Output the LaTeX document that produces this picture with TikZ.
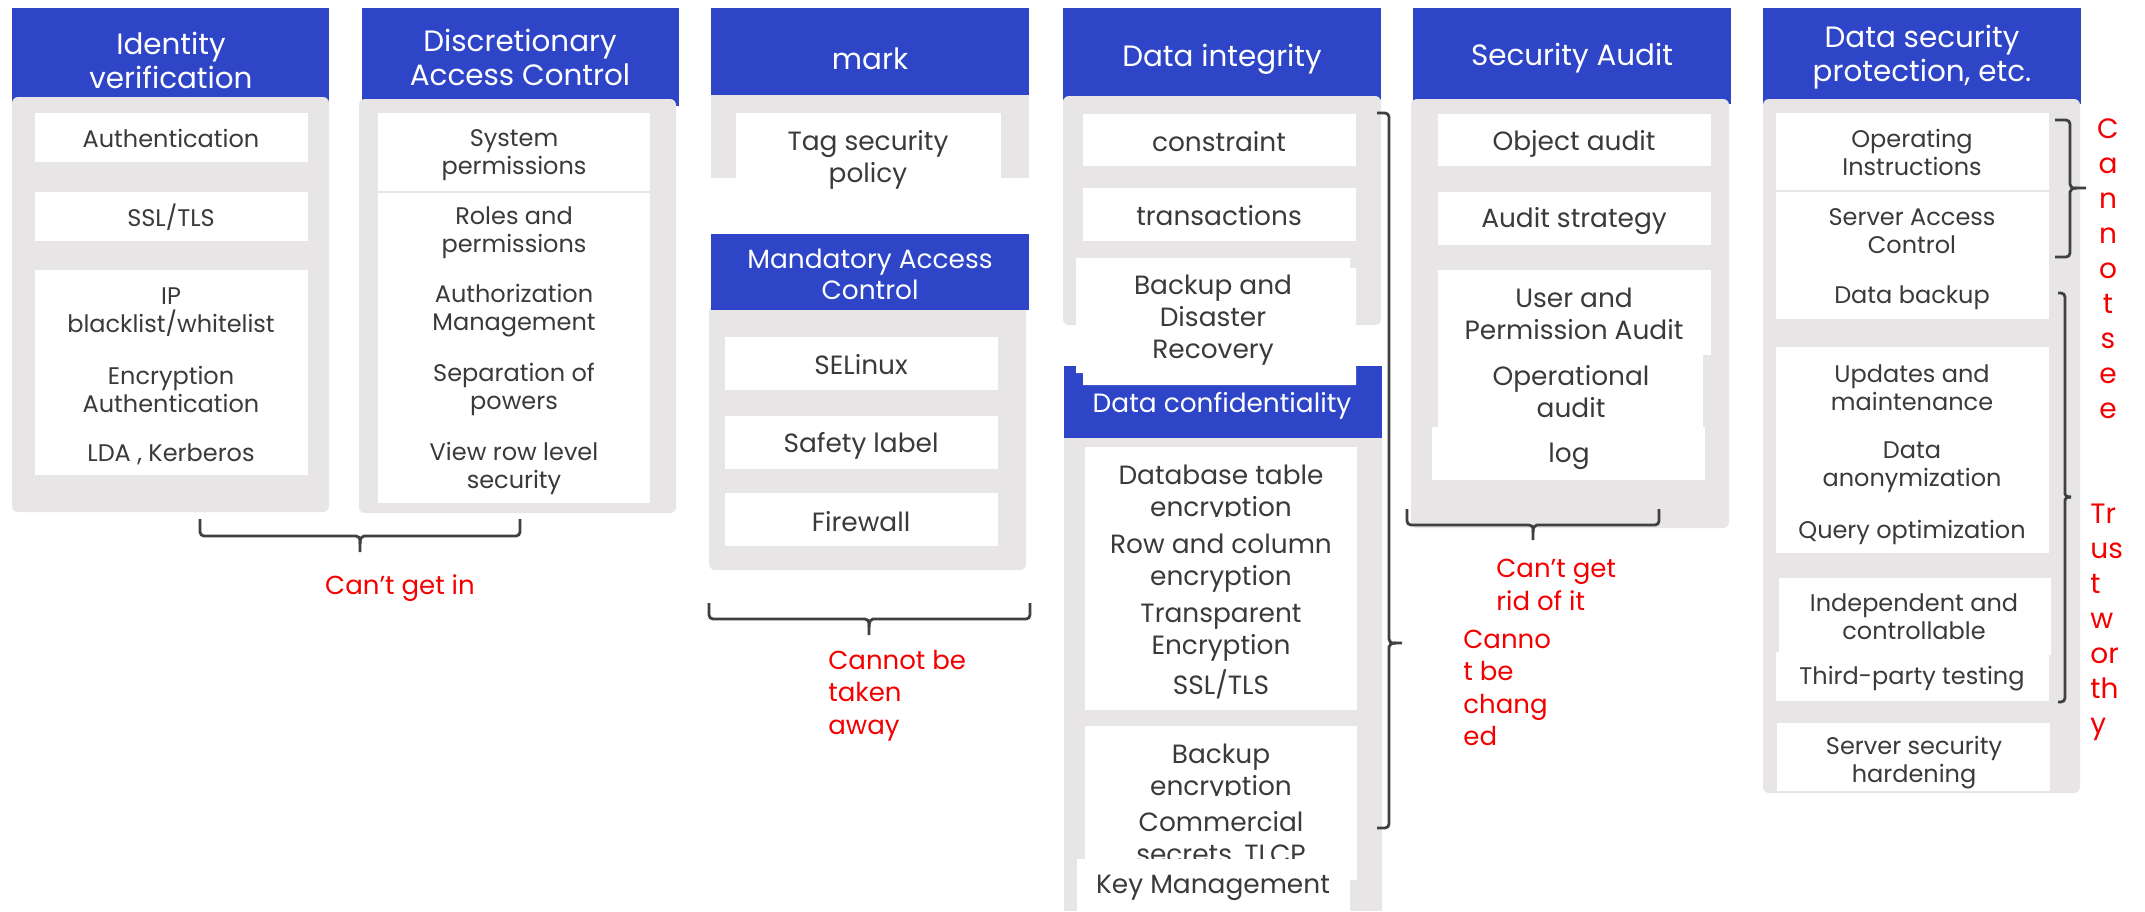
\documentclass[tikz,border=0pt]{standalone}
\usepackage{fontspec}
\setmainfont{Poppins}
\definecolor{hdrblue}{HTML}{2E45C8}
\definecolor{panelgray}{HTML}{E7E5E6}
\definecolor{bodytxt}{HTML}{3A3A3A}
\definecolor{redtxt}{HTML}{F40000}
\definecolor{bracegray}{HTML}{404040}
\begin{document}
\begin{tikzpicture}[x=0.5pt,y=-0.5pt,
  hdr/.style={fill=hdrblue},
  pnl/.style={fill=panelgray, rounded corners=3pt},
  wbox/.style={fill=white},
  ttl/.style={text=white,font=\fontsize{14.7}{17}\selectfont,align=center,inner sep=0pt},
  sttl/.style={text=white,font=\fontsize{13.2}{15.5}\selectfont,align=center,inner sep=0pt},
  bd/.style={text=bodytxt,font=\fontsize{12}{14}\selectfont,align=center,inner sep=0pt},
  bdl/.style={text=bodytxt,font=\fontsize{13.2}{16}\selectfont,align=center,inner sep=0pt},
  rd/.style={text=redtxt,font=\fontsize{13}{16.25}\selectfont,align=left,inner sep=0pt,anchor=west},
  rdv/.style={text=redtxt,font=\fontsize{14}{17.5}\selectfont,inner sep=0pt},
  brc/.style={draw=bracegray,line width=1.4pt,rounded corners=2pt},
  sepline/.style={draw=panelgray,line width=1pt}]
\useasboundingbox (0,0) rectangle (2145,911);
\fill[white] (0,0) rectangle (2145,911);

% ---------- column 1: Identity verification
\fill[hdr] (12,8) rectangle (329,106);
\fill[pnl] (12,97) rectangle (329,512);
\fill[wbox] (35,113) rectangle (308,162);
\fill[wbox] (35,192) rectangle (308,241);
\fill[wbox] (35,270) rectangle (308,475);
\node[ttl] (t1) at (171,60) {Identity\\verification};
\node[bd] (a1) at (171,138) {Authentication};
\node[bd] (a2) at (171,217) {SSL/TLS};
\node[bd] (a3) at (171,312) {IP\\blacklist/whitelist};
\node[bd] (a4) at (171,389) {Encryption\\Authentication};
\node[bd] (a5) at (171,454) {LDA , Kerberos};

% ---------- column 2: Discretionary Access Control
\fill[hdr] (362,8) rectangle (679,106);
\fill[pnl] (359,99) rectangle (676,513);
\fill[wbox] (378,113) rectangle (650,503);
\draw[sepline] (378,192) -- (650,192);
\node[ttl] (t2) at (520,57) {Discretionary\\Access Control};
\node[bd] (b1) at (514,155) {System\\permissions};
\node[bd] (b2) at (514,233) {Roles and\\permissions};
\node[bd] (b3) at (514,311) {Authorization\\Management};
\node[bd] (b4) at (514,389) {Separation of\\powers};
\node[bd] (b5) at (514,468) {View row level\\security};

% ---------- column 3: mark / Mandatory Access Control
\fill[hdr] (711,8) rectangle (1029,100);
\fill[panelgray] (711,95) rectangle (1029,178);
\fill[wbox] (736,113) rectangle (1001,180);
\node[ttl] (t3) at (870,59) {mark};
\node[bdl] (c1) at (868,160) {Tag security\\policy};
\fill[hdr] (711,234) rectangle (1029,310);
\fill[pnl] (709,306) rectangle (1026,570);
\fill[hdr] (711,300) rectangle (1029,310);
\fill[wbox] (725,337) rectangle (998,390);
\fill[wbox] (725,416) rectangle (998,469);
\fill[wbox] (725,493) rectangle (998,546);
\node[sttl] (t4) at (870,274) {Mandatory Access\\Control};
\node[bdl] (c2) at (861,365) {SELinux};
\node[bdl] (c3) at (861,446) {Safety label};
\node[bdl] (c4) at (861,522) {Firewall};

% ---------- column 4: Data integrity / Data confidentiality
\fill[hdr] (1063,8) rectangle (1381,100);
\fill[pnl] (1063,96) rectangle (1381,325);
\fill[wbox] (1083,114) rectangle (1356,166);
\fill[wbox] (1083,188) rectangle (1356,241);
\node[ttl] (t5) at (1222,59) {Data integrity};
\node[bdl] (d1) at (1219,142) {constraint};
\node[bdl] (d2) at (1219,216) {transactions};
\fill[hdr] (1064,366) rectangle (1382,438);
\fill[wbox] (1076,258) -- (1350,258) -- (1350,268) -- (1356,268) -- (1356,385)
  -- (1083,385) -- (1083,373) -- (1076,373) -- cycle;
\node[bdl] (d3) at (1213,320) {Backup and\\Disaster\\Recovery};
\node[sttl] (t6) at (1222,406) {Data confidentiality};
\fill[panelgray] (1064,438) rectangle (1382,911);
\fill[wbox] (1085,447) rectangle (1357,710);
\fill[wbox] (1085,726) rectangle (1357,880);
\begin{scope}
  \clip (1085,447) rectangle (1357,516);
  \node[bdl] (e1) at (1221,494) {Database table\\encryption};
\end{scope}
\node[bdl] (e2) at (1221,563) {Row and column\\encryption};
\node[bdl] (e3) at (1221,633) {Transparent\\Encryption};
\node[bdl] (e4) at (1221,684) {SSL/TLS};
\begin{scope}
  \clip (1085,726) rectangle (1357,795);
  \node[bdl] (e5) at (1221,773) {Backup\\encryption};
\end{scope}
\node[bdl] (e6) at (1221,839) {Commercial\\secrets, TLCP};
\fill[wbox] (1077,859) rectangle (1350,911);
\node[bdl] (e7) at (1213,888) {Key Management};

% ---------- column 5: Security Audit
\fill[hdr] (1413,8) rectangle (1731,104);
\fill[pnl] (1411,99) rectangle (1729,528);
\fill[wbox] (1438,114) rectangle (1711,166);
\fill[wbox] (1438,192) rectangle (1711,245);
\fill[wbox] (1438,270) rectangle (1711,355);
\fill[wbox] (1438,355) rectangle (1703,427);
\fill[wbox] (1432,427) rectangle (1705,480);
\node[ttl] (t7) at (1572,58) {Security Audit};
\node[bdl] (f1) at (1574,144) {Object audit};
\node[bdl] (f2) at (1574,221) {Audit strategy};
\node[bdl] (f3) at (1574,314) {User and\\Permission Audit};
\node[bdl] (f4) at (1571,392) {Operational\\audit};
\node[bdl] (f5) at (1569,456) {log};

% ---------- column 6: Data security protection
\fill[hdr] (1763,8) rectangle (2081,104);
\fill[pnl] (1763,99) rectangle (2080,793);
\fill[wbox] (1776,113) rectangle (2049,319);
\draw[sepline] (1776,191) -- (2049,191);
\fill[wbox] (1776,347) rectangle (2049,553);
\fill[wbox] (1779,578) rectangle (2051,655);
\fill[wbox] (1776,652) rectangle (2049,701);
\fill[wbox] (1777,723) rectangle (2050,791);
\node[ttl] (t8) at (1922,57) {Data security\\protection, etc.};
\node[bd] (g1) at (1912,152) {Operating\\Instructions};
\node[bd] (g2) at (1912,231) {Server Access\\Control};
\node[bd] (g3) at (1912,298) {Data backup};
\node[bd] (g4) at (1912,388) {Updates and\\maintenance};
\node[bd] (g5) at (1912,467) {Data\\anonymization};
\node[bd] (g6) at (1912,532) {Query optimization};
\node[bd] (g7) at (1914,617) {Independent and\\controllable};
\node[bd] (g8) at (1912,679) {Third-party testing};
\node[bd] (g9) at (1914,763) {Server security\\hardening};

% ---------- braces
% Can't get in
\draw[brc] (200,519) -- (200,536) -- (352,536) .. controls (358,536) and (360,538) .. (360,544) -- (360,552);
\draw[brc] (520,519) -- (520,536) -- (368,536) .. controls (362,536) and (360,538) .. (360,544);
% Cannot be taken away
\draw[brc] (709,603) -- (709,619) -- (861,619) .. controls (867,619) and (869,621) .. (869,627) -- (869,635);
\draw[brc] (1030,603) -- (1030,619) -- (877,619) .. controls (871,619) and (869,621) .. (869,627);
% Cannot be changed
\draw[brc] (1377,113) -- (1389,113) -- (1389,635) .. controls (1389,641) and (1391,643) .. (1396,643) -- (1402,643);
\draw[brc] (1377,828) -- (1389,828) -- (1389,651) .. controls (1389,645) and (1391,643) .. (1396,643);
% Can't get rid of it
\draw[brc] (1407,509) -- (1407,525) -- (1525,525) .. controls (1531,525) and (1533,527) .. (1533,532) -- (1533,540);
\draw[brc] (1659,509) -- (1659,525) -- (1541,525) .. controls (1535,525) and (1533,527) .. (1533,532);
% Cannot see
\draw[brc] (2055,120) -- (2070,120) -- (2070,180) .. controls (2070,186) and (2072,188) .. (2077,188) -- (2086,188);
\draw[brc] (2055,257) -- (2070,257) -- (2070,196) .. controls (2070,190) and (2072,188) .. (2077,188);
% Trustworthy
\draw[brc] (2058,293) -- (2065,293) -- (2065,490) .. controls (2065,495) and (2066,497) .. (2071,497);
\draw[brc] (2058,702) -- (2065,702) -- (2065,504) .. controls (2065,499) and (2066,497) .. (2071,497);

% ---------- red labels
\node[rd,anchor=center] (r1) at (400,588) {Can't get in};
\node[rd] (r2) at (828,695.5) {Cannot be\\taken\\away};
\node[rd] (r3) at (1463,688) {Canno\\t be\\chang\\ed};
\node[rd] (r4) at (1496,585) {Can't get\\rid of it};
\node[rdv,align=center] (r5) at (2108,269) {C\\a\\n\\n\\o\\t\\s\\e\\e};
\node[rdv,align=left,anchor=west] (r6) at (2090,622) {Tr\\us\\t\\w\\or\\th\\y};
\end{tikzpicture}
\end{document}
